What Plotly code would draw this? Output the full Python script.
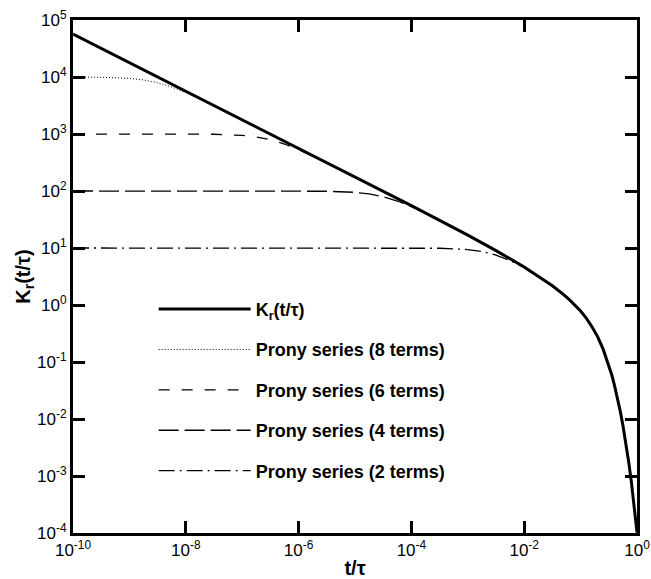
import plotly.graph_objects as go

# ---- data ----
t_kr = [1e-10, 1e-9, 1e-8, 1e-7, 1e-6, 1e-5, 1e-4, 1e-3, 3.16e-3, 1e-2, 3.16e-2,
        5.01e-2, 6.31e-2, 1e-1, 1.26e-1, 1.58e-1, 2e-1, 2.51e-1, 3.16e-1, 3.55e-1,
        3.98e-1, 4.47e-1, 5.01e-1, 5.62e-1, 6.31e-1, 7.08e-1, 7.94e-1, 8.91e-1, 1.0]
k_kr = [5.64e4, 1.78e4, 5.64e3, 1.78e3, 563, 177, 55.4, 16.8, 9.0, 4.64, 2.17,
        1.52, 1.245, 0.784, 0.590, 0.42, 0.279, 0.168, 0.0884, 0.0604,
        0.0393, 0.0243, 0.0142, 0.0078, 0.00394, 0.00184, 0.00079, 0.000302, 0.000103]

# Prony series: plateau / transition part; beyond it they follow K_r
t_p8_head = [1e-10, 3.16e-10, 1e-9, 1.78e-9, 3.16e-9, 5.62e-9, 1e-8, 3.16e-8, 1e-7]
k_p8_head = [9980, 9897, 9470, 8890, 7940, 6670, 5320, 3130, 1780]

t_p6_head = [1e-10, 1e-8, 3.16e-8, 1e-7, 1.78e-7, 3.16e-7, 5.62e-7, 1e-6, 3.16e-6, 1e-5]
k_p6_head = [1000, 998, 990, 947, 889, 794, 667, 532, 313, 177]

t_p4_head = [1e-10, 1e-6, 3.16e-6, 1e-5, 1.78e-5, 3.16e-5, 5.62e-5, 1e-4, 3.16e-4, 1e-3]
k_p4_head = [100, 99.8, 99.0, 94.7, 88.9, 79.4, 66.7, 53.2, 31.3, 17.0]

t_p2_head = [1e-10, 1e-4, 3.16e-4, 1e-3, 1.78e-3, 3.16e-3, 5.62e-3, 1e-2, 3.16e-2]
k_p2_head = [10, 9.98, 9.89, 9.38, 8.69, 7.51, 6.01, 4.50, 2.16]

names = ["K<sub>r</sub>(t/τ)", "Prony series (8 terms)", "Prony series (6 terms)",
         "Prony series (4 terms)", "Prony series (2 terms)"]

x_tickvals = [1e-10, 1e-8, 1e-6, 1e-4, 1e-2, 1]
x_ticktext = ["10<sup>-10</sup>", "10<sup>-8</sup>", "10<sup>-6</sup>",
              "10<sup>-4</sup>", "10<sup>-2</sup>", "10<sup>0</sup>"]
y_tickvals = [1e-4, 1e-3, 1e-2, 1e-1, 1, 10, 100, 1e3, 1e4, 1e5]
y_ticktext = ["10<sup>-4</sup>", "10<sup>-3</sup>", "10<sup>-2</sup>", "10<sup>-1</sup>",
              "10<sup>0</sup>", "10<sup>1</sup>", "10<sup>2</sup>", "10<sup>3</sup>",
              "10<sup>4</sup>", "10<sup>5</sup>"]


def with_tail(th, kh):
    last = th[-1]
    tail = [(t, k) for t, k in zip(t_kr, k_kr) if t > last * 1.01]
    return th + [t for t, _ in tail], kh + [k for _, k in tail]


t_p8, k_p8 = with_tail(t_p8_head, k_p8_head)
t_p6, k_p6 = with_tail(t_p6_head, k_p6_head)
t_p4, k_p4 = with_tail(t_p4_head, k_p4_head)
t_p2, k_p2 = with_tail(t_p2_head, k_p2_head)

series = [
    (t_kr, k_kr, dict(color="black", width=3, dash="solid")),
    (t_p8, k_p8, dict(color="black", width=1, dash="1px,2px")),
    (t_p6, k_p6, dict(color="black", width=1.3, dash="11px,12px")),
    (t_p4, k_p4, dict(color="black", width=1.3, dash="20px,6px")),
    (t_p2, k_p2, dict(color="black", width=1.3, dash="16px,5px,2px,5px")),
]

fig = go.Figure()
order = [1, 2, 3, 4, 0]  # K_r drawn on top
for i in order:
    x, y, ln = series[i]
    fig.add_trace(go.Scatter(x=x, y=y, mode="lines", name=names[i], line=ln,
                             legendgroup=str(i), legendrank=i + 1))

font_family = "Liberation Sans, Arial, sans-serif"

fig.update_layout(
    width=651, height=579,
    margin=dict(l=73, r=14, t=20, b=46, autoexpand=False),
    paper_bgcolor="white", plot_bgcolor="white",
    font=dict(family=font_family, color="black", size=17),
    showlegend=True,
    legend=dict(x=0.143, y=0.472, xanchor="left", yanchor="top",
                bgcolor="rgba(0,0,0,0)", borderwidth=0,
                font=dict(size=18, family=font_family, weight="bold"),
                tracegroupgap=14, itemwidth=92),
)
fig.update_xaxes(type="log", range=[-10, 0], tickvals=x_tickvals, ticktext=x_ticktext,
                 ticks="inside", ticklen=12, tickwidth=3, tickcolor="black",
                 showline=True, linewidth=3, linecolor="black", mirror="ticks",
                 showgrid=False, zeroline=False, automargin=False,
                 tickfont=dict(size=17),
                 title=dict(text="<b>t/τ</b>", font=dict(size=20), standoff=9))
fig.update_yaxes(type="log", range=[-4, 5], tickvals=y_tickvals, ticktext=y_ticktext,
                 ticks="inside", ticklen=12, tickwidth=3, tickcolor="black",
                 showline=True, linewidth=3, linecolor="black", mirror="ticks",
                 showgrid=False, zeroline=False, automargin=False,
                 tickfont=dict(size=17),
                 title=dict(text="<b>K<sub>r</sub>(t/τ)</b>", font=dict(size=20), standoff=2))

fig.write_html("out.html")
